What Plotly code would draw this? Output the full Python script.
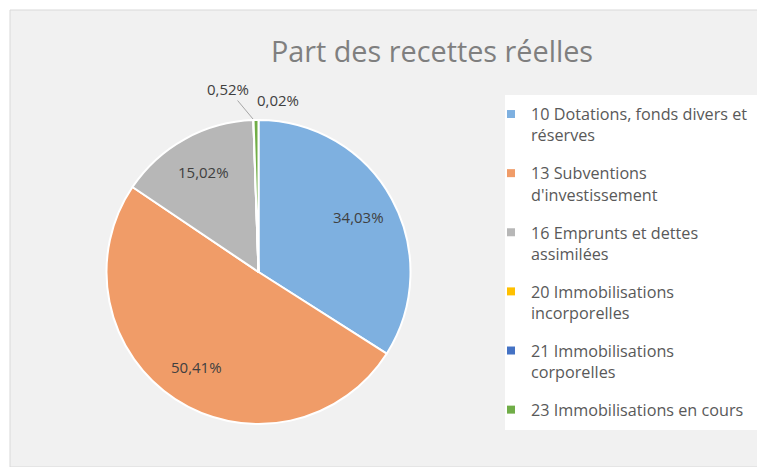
import math
import textwrap
import plotly.graph_objects as go

title = "Part des recettes réelles"
categories = [
    "10 Dotations, fonds divers et réserves",
    "13 Subventions d'investissement",
    "16 Emprunts et dettes assimilées",
    "20 Immobilisations incorporelles",
    "21 Immobilisations corporelles",
    "23 Immobilisations en cours",
]
values = [34.03, 50.41, 15.02, 0.0, 0.02, 0.52]
colors = ["#7eb0e0", "#f09c68", "#b7b7b7", "#ffc000", "#4472c4", "#70ad47"]

# the page body has an 8px margin; the figure fills the rest of the 765x467 window
OFF = 8
W, H = 765 - OFF, 467 - OFF


def px(x):
    return (x - OFF) / W


def py(y):
    return 1 - (y - OFF) / H


def fmt(v):
    return ("%.2f" % v).replace(".", ",") + "%" if v > 0 else ""


legend_labels = ["<br>".join(textwrap.wrap(c, 29)) for c in categories]

FONT = "Open Sans"
LABEL_FONT = dict(family=FONT, size=15, color="#404040")
cx, cy, r = 258.5, 272, 152
fig = go.Figure()
fig.add_trace(go.Pie(
    labels=categories,
    values=values,
    textinfo="none",
    sort=False,
    direction="clockwise",
    rotation=0,
    marker=dict(colors=colors, line=dict(color="white", width=2)),
    domain=dict(x=[px(cx - r), px(cx + r)], y=[py(cy + r), py(cy - r)]),
    hoverinfo="skip",
    showlegend=False,
))

# legend entries (one per category, same colours as the slices)
for i, (lab, col) in enumerate(zip(legend_labels, colors)):
    fig.add_trace(go.Scatter(
        x=[None], y=[None], mode="markers", name=lab, legendgroup=str(i),
        marker=dict(symbol="square", size=8, color=col), hoverinfo="skip",
    ))

# data labels: big slices at 3/4 of the radius on the slice's mid-angle
annotations = []
total = sum(values)
cum = 0.0
for v in values:
    if v > 5:
        th = 2 * math.pi * (cum + v / 2) / total
        annotations.append(dict(text=fmt(v), xref="paper", yref="paper",
                                x=px(cx + 0.75 * r * math.sin(th)), y=py(cy - 0.75 * r * math.cos(th)),
                                showarrow=False, font=LABEL_FONT, xanchor="center", yanchor="middle"))
    cum += v

# labels for the two small slices (leader line for 0,52%)
small_idx = [i for i, v in enumerate(values) if 0 < v <= 5]
i052 = values.index(max(values[i] for i in small_idx))
i002 = values.index(min(values[i] for i in small_idx))
annotations += [
    dict(text=fmt(values[i052]), xref="paper", yref="paper", x=px(253), y=py(119),
         ax=228 - 253, ay=89 - 119, axref="pixel", ayref="pixel", showarrow=True, arrowhead=0,
         arrowwidth=1, arrowcolor="#a6a6a6", font=LABEL_FONT, standoff=0),
    dict(text=fmt(values[i002]), xref="paper", yref="paper", x=px(278), y=py(100),
         showarrow=False, font=LABEL_FONT, xanchor="center", yanchor="middle"),
]

fig.update_xaxes(visible=False)
fig.update_yaxes(visible=False)
fig.update_layout(
    width=W, height=H,
    margin=dict(l=0, r=0, t=0, b=0),
    paper_bgcolor="white",
    plot_bgcolor="rgba(0,0,0,0)",
    title=dict(text=title, x=px(432), xanchor="center", y=py(52), yanchor="middle",
               font=dict(family=FONT, size=28.8, color="#7f7f7f")),
    legend=dict(x=px(491), xanchor="left", y=py(97), yanchor="top",
                font=dict(family=FONT, size=16.2, color="#595959"),
                bgcolor="rgba(0,0,0,0)", valign="top", traceorder="grouped",
                tracegroupgap=14),
    annotations=annotations,
    shapes=[
        dict(type="rect", xref="paper", yref="paper", x0=px(10), x1=1.0, y0=0, y1=py(10),
             fillcolor="#f1f1f1", line=dict(color="#d9d9d9", width=1), layer="below"),
        dict(type="rect", xref="paper", yref="paper", x0=px(505), x1=1.0, y0=py(430), y1=py(95),
             fillcolor="white", line=dict(width=0), layer="below"),
    ],
)

fig.write_html("out.html")
